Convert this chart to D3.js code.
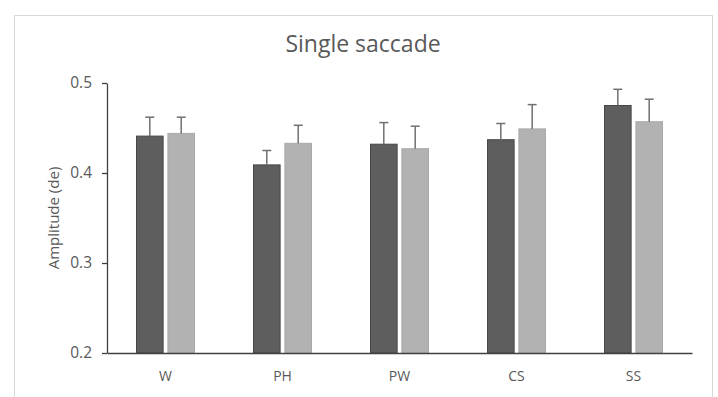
<!DOCTYPE html>
<html><head><meta charset="utf-8">
<script src="https://cdn.jsdelivr.net/npm/d3@7"></script>
<style>html,body{margin:0;padding:0;background:#fff;}svg{display:block;}</style>
</head><body>
<svg id="chart" width="718" height="397"></svg>
<script>
const categories = ["W", "PH", "PW", "CS", "SS"];
const seriesNames = ["Series A", "Series B"];
const seriesA = [0.441, 0.409, 0.432, 0.437, 0.475];
const seriesB = [0.444, 0.433, 0.427, 0.449, 0.457];
const errorA = [0.021, 0.016, 0.024, 0.018, 0.018];
const errorB = [0.018, 0.020, 0.025, 0.027, 0.025];
const yTicks = [0.2, 0.3, 0.4, 0.5];
const title = "Single saccade";
const yTitle = "Amplitude (de)";

const svg = d3.select("#chart");
const W = 718, H = 397;
const margin = {left: 107, right: 26, top: 83, bottom: 44};
const x0 = d3.scaleBand().domain(categories).range([margin.left, W - margin.right]).paddingInner(0).paddingOuter(0);
const x1 = d3.scaleBand().domain(seriesNames).range([0, 59]).paddingInner(0.12);
const y = d3.scaleLinear().domain([0.2, 0.5]).range([H - margin.bottom, margin.top]);
const colors = ["#5e5e5e", "#b2b2b2"];
const strokes = ["#474747", "#aaaaaa"];
const font = "'Open Sans', 'Noto Sans', sans-serif";

// outer frame
svg.append("rect").attr("x", 14.5).attr("y", 15.5).attr("width", 698).attr("height", 400)
  .attr("fill", "#fff").attr("stroke", "#d9d9d9").attr("stroke-width", 1);

// title
svg.append("text").attr("x", 363).attr("y", 52).attr("text-anchor", "middle")
  .attr("font-family", font).attr("font-size", 23).attr("fill", "#595959").text(title);

const data = categories.map((c, i) => ({cat: c, vals: [
  {s: seriesNames[0], v: seriesA[i], e: errorA[i], k: 0},
  {s: seriesNames[1], v: seriesB[i], e: errorB[i], k: 1}]}));

const groups = svg.append("g").selectAll("g").data(data).join("g")
  .attr("transform", d => `translate(${x0(d.cat) + (x0.bandwidth() - 59) / 2},0)`);

groups.selectAll("rect").data(d => d.vals).join("rect")
  .attr("x", d => x1(d.s) + 0.5).attr("width", x1.bandwidth() - 1)
  .attr("y", d => y(d.v)).attr("height", d => y(0.2) - y(d.v))
  .attr("fill", d => colors[d.k]).attr("stroke", d => strokes[d.k]).attr("stroke-width", 1);

// error bars (upper only)
groups.selectAll("line.err").data(d => d.vals).join("line").attr("class", "err")
  .attr("x1", d => x1(d.s) + x1.bandwidth() / 2).attr("x2", d => x1(d.s) + x1.bandwidth() / 2)
  .attr("y1", d => y(d.v)).attr("y2", d => y(d.v + d.e))
  .attr("stroke", "#707070").attr("stroke-width", 1.5);
groups.selectAll("line.cap").data(d => d.vals).join("line").attr("class", "cap")
  .attr("x1", d => x1(d.s) + x1.bandwidth() / 2 - 4.5).attr("x2", d => x1(d.s) + x1.bandwidth() / 2 + 4.5)
  .attr("y1", d => y(d.v + d.e)).attr("y2", d => y(d.v + d.e))
  .attr("stroke", "#707070").attr("stroke-width", 1.5);

// y axis
const yAxis = svg.append("g").attr("transform", `translate(${margin.left},0)`)
  .call(d3.axisLeft(y).tickValues(yTicks).tickFormat(d3.format(".1f")).tickSize(5).tickSizeOuter(0));
yAxis.select(".domain").attr("stroke", "#404040").attr("stroke-width", 1.3);
yAxis.selectAll(".tick line").attr("stroke", "#404040").attr("stroke-width", 1.3);
yAxis.selectAll(".tick text").attr("font-family", font).attr("font-size", 15.5).attr("fill", "#595959").attr("x", -15);

// x axis
const xAxis = svg.append("g").attr("transform", `translate(0,${y(0.2)})`)
  .call(d3.axisBottom(x0).tickSize(0).tickSizeOuter(0));
xAxis.select(".domain").attr("stroke", "#404040").attr("stroke-width", 1.6);
xAxis.selectAll(".tick text").attr("font-family", font).attr("font-size", 14).attr("fill", "#595959").attr("dy", "1.75em");

// y title
svg.append("text").attr("transform", `translate(59,218) rotate(-90)`).attr("text-anchor", "middle")
  .attr("font-family", font).attr("font-size", 15).attr("fill", "#595959").text(yTitle);
</script>
</body></html>
